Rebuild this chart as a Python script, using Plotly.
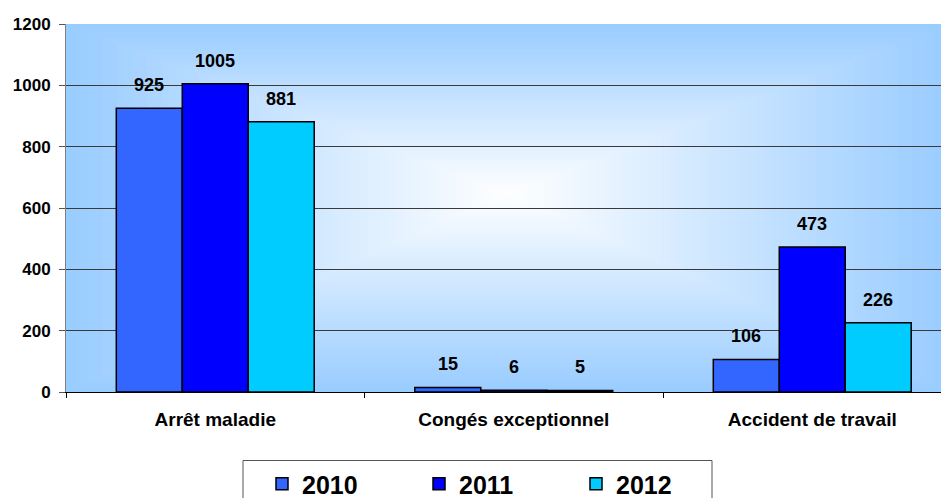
import plotly.graph_objects as go

categories = ["Arrêt maladie", "Congés exceptionnel", "Accident de travail"]
years = ["2010", "2011", "2012"]
values_2010 = [925, 15, 106]
values_2011 = [1005, 6, 473]
values_2012 = [881, 5, 226]
y_ticks = [0, 200, 400, 600, 800, 1000, 1200]

series = [values_2010, values_2011, values_2012]
colors = ["#3366FF", "#0000FF", "#00CCFF"]

FONT = "Liberation Sans, Arial, sans-serif"
BARGAP = 0.337
OFF = 8  # page body margin offset of the rendered figure

fig = go.Figure()
for name, vals, col in zip(years, series, colors):
    fig.add_trace(go.Bar(
        x=categories, y=vals, name=name,
        marker=dict(color=col, line=dict(color="#000000", width=1.5)),
    ))

# data labels placed above bars via annotations (grouped offsets)
w = (1 - BARGAP) / len(series)
annotations = []
for j, vals in enumerate(series):
    for i, v in enumerate(vals):
        annotations.append(dict(
            x=i + (j - (len(series) - 1) / 2) * w, y=v, xref="x", yref="y",
            text=str(v), showarrow=False, yanchor="bottom", yshift=11,
            font=dict(family=FONT, size=18, color="#000000", weight="bold"),
        ))

# rectangular "from center" gradient background
shapes = []
base = (153, 204, 255)
N = 60
cx, cy = 0.5, 0.54
for k in range(N, 0, -1):
    t = k / N
    wgt = 1 - t
    r = round(base[0] + (255 - base[0]) * wgt)
    g = round(base[1] + (255 - base[1]) * wgt)
    b = round(base[2] + (255 - base[2]) * wgt)
    shapes.append(dict(
        type="rect", xref="x domain", yref="y domain", layer="below",
        x0=cx - cx * t, x1=cx + (1 - cx) * t,
        y0=cy - cy * t, y1=cy + (1 - cy) * t,
        fillcolor=f"rgb({r},{g},{b})", line=dict(width=0),
    ))

# legend frame
shapes.append(dict(
    type="rect", xref="paper", yref="paper", layer="above",
    x0=(243 - 66) / 883, x1=(712 - 66) / 883,
    y0=(392 - 510) / 368, y1=(392 - 460.5) / 368,
    fillcolor="rgba(0,0,0,0)", line=dict(color="#555555", width=1),
))

fig.update_layout(
    template="none",
    width=949 - OFF, height=498 - OFF,
    margin=dict(l=66 - OFF, r=0, t=24 - OFF, b=106, autoexpand=False),
    paper_bgcolor="#FFFFFF", plot_bgcolor="#99CCFF",
    barmode="group", bargap=BARGAP, bargroupgap=0,
    font=dict(family=FONT, color="#000000"),
    shapes=shapes, annotations=annotations,
    showlegend=True,
    legend=dict(
        orientation="h", xref="paper", yref="paper",
        x=(262 - 66) / 883, xanchor="left", y=(392 - 484) / 368, yanchor="middle",
        font=dict(family=FONT, size=25, color="#000000", weight="bold"),
        entrywidth=112, entrywidthmode="pixels",
        bgcolor="rgba(0,0,0,0)", borderwidth=0,
        traceorder="normal",
    ),
)

fig.update_yaxes(
    automargin=False,
    range=[0, 1200], tickvals=y_ticks, ticktext=[str(v) for v in y_ticks],
    showgrid=True, gridcolor="#3a3a3a", gridwidth=1,
    zeroline=True, zerolinecolor="#000000", zerolinewidth=1,
    showline=True, linecolor="#808080", linewidth=1,
    ticks="outside", ticklen=6, tickcolor="#555555",
    ticklabelstandoff=5,
    tickfont=dict(family=FONT, size=17, color="#000000", weight="bold"),
    fixedrange=True,
)
fig.update_xaxes(
    automargin=False,
    range=[-0.5, -0.5 + 883 / 298.5],
    showgrid=False,
    showline=True, linecolor="#000000", linewidth=1,
    ticks="outside", tickson="boundaries", ticklen=5, tickcolor="#000000",
    ticklabelstandoff=10,
    tickfont=dict(family=FONT, size=19, color="#000000", weight="bold"),
    fixedrange=True,
)

fig.write_html("out.html")
